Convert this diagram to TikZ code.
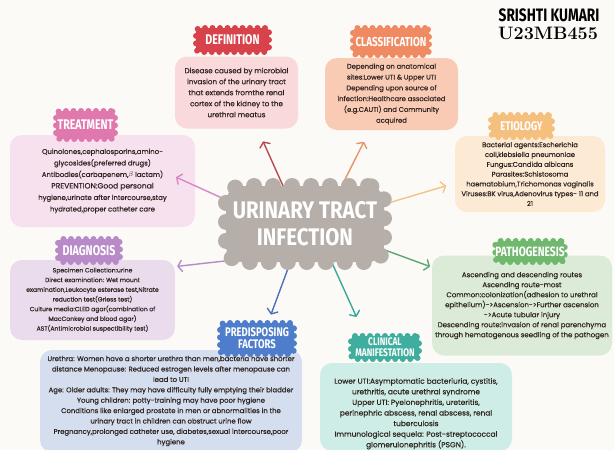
\documentclass[tikz,border=0pt]{standalone}
\usepackage{fontspec}
\usepackage{tikz}
\usetikzlibrary{arrows.meta}
\newfontfamily\bodyfont{Poppins}[FakeBold=0.3]
\newfontfamily\headfont{Fira Sans}[FakeStretch=0.76]
\newfontfamily\bigheadfont{Fira Sans}[FakeStretch=0.85]
\definecolor{bgcol}{HTML}{FCFAF6}
\definecolor{inkcol}{HTML}{2E2420}
\definecolor{uticol}{HTML}{B6AEA9}
\definecolor{defcol}{HTML}{D8434B}
\definecolor{defbg}{HTML}{F9D9DA}
\definecolor{defarr}{HTML}{B84A4F}
\definecolor{classcol}{HTML}{EF8A62}
\definecolor{classbg}{HTML}{F9CBB5}
\definecolor{classarr}{HTML}{E4956A}
\definecolor{etiocol}{HTML}{F5C07E}
\definecolor{etiobg}{HTML}{FCEAD4}
\definecolor{etioarr}{HTML}{F1C488}
\definecolor{treatcol}{HTML}{E078AE}
\definecolor{treatbg}{HTML}{F7E1EE}
\definecolor{treatarr}{HTML}{D986C4}
\definecolor{diagcol}{HTML}{B98AC8}
\definecolor{diagbg}{HTML}{EADCEC}
\definecolor{diagarr}{HTML}{B28CC8}
\definecolor{pathcol}{HTML}{6FB86E}
\definecolor{pathbg}{HTML}{DCEBD7}
\definecolor{patharr}{HTML}{5FA56E}
\definecolor{predcol}{HTML}{4E7DCB}
\definecolor{predbg}{HTML}{D4DEEE}
\definecolor{predarr}{HTML}{4B72BA}
\definecolor{clincol}{HTML}{3FAE9E}
\definecolor{clinbg}{HTML}{CFEDE7}
\definecolor{clinarr}{HTML}{3BA899}
\pgfdeclarelayer{front}
\pgfsetlayers{main,front}
\tikzset{
  infobox/.style={rounded corners=12pt, align=center, text=inkcol, inner sep=0pt},
  badge/.style={rectangle, rounded corners=4pt, fill=#1, draw=#1, line width=6pt,
    dash pattern=on 0pt off 7.5pt, line cap=round, align=center, text=white,
    inner sep=0pt, outer sep=0pt},
  link/.style={-{Straight Barb[length=4pt,width=11pt,round]}, line width=1.4pt,
    line cap=round, solid},
}
\newcommand{\bodysize}[2]{\bodyfont\fontsize{#1}{#2}\selectfont}
\newcommand{\headsize}[2]{\headfont\bfseries\fontsize{#1}{#2}\selectfont}

\begin{document}
\begin{tikzpicture}[x=1pt, y=-1pt]

  % Page.
  \useasboundingbox (0,0) rectangle (614,450);
  \fill[bgcol] (0,0) rectangle (614,450);

  % Author.
  \node[font=\headsize{18}{18}, text=black] (author) at (549,15) {SRISHTI KUMARI};
  \node[font=\rmfamily\bfseries\fontsize{18}{18}\selectfont, text=black] (regno)
    at (548,33) {U23MB455};

  % Text boxes.
  \node[infobox, fill=defbg, minimum width=123, minimum height=72,
    font=\bodysize{7.2}{11}] (defbox) at (236.5,92.5)
    {Disease caused by microbial\\invasion of the urinary tract\\that extends fromthe renal\\cortex of the kidney to the\\urethral meatus};
  \node[infobox, fill=classbg, minimum width=133, minimum height=72,
    font=\bodysize{6.8}{10.8}] (classbox) at (391.5,94)
    {Depending on anatomical\\sites:Lower UTI \& Upper UTI\\Depending upon source of\\infection:Healthcare associated\\(e.g.CAUTI) and Community\\acquired};
  \node[infobox, fill=etiobg, minimum width=150, minimum height=76,
    font=\bodysize{6.8}{9.8}] (etiobox) at (530,174)
    {Bacterial agents:Escherichia\\coli,klebsiella pneumoniae\\Fungus:Candida albicans\\Parasites:Schistosoma\\haematobium,Trichomonas vaginalis\\Viruses:BK virus,Adenovirus types- 11 and\\21};
  \node[infobox, fill=treatbg, minimum width=185, minimum height=92,
    font=\bodysize{6.9}{11.5}] (treatbox) at (102.5,181)
    {Quinolones,cephalosporins,amino-\\glycosides(preferred drugs)\\Antibodies(carbapenem,$\beta$ lactam)\\{\fontsize{7.6}{11.5}\selectfont PREVENTION:Good personal}\\hygiene,urinate after intercourse,stay\\hydrated,proper catheter care};
  \node[infobox, fill=diagbg, minimum width=165, minimum height=80,
    font=\bodysize{6.1}{9.7}] (diagbox) at (92.5,300)
    {Specimen Collection:urine\\Direct examination: Wet mount\\examination,Leukocyte esterase test,Nitrate\\reduction test(Griess test)\\Culture media:CLED agar(combination of\\MacConkey and blood agar)\\AST(Antimicrobial suspectibility test)};
  \node[infobox, fill=pathbg, minimum width=180, minimum height=100,
    font=\bodysize{7}{10}] (pathbox) at (522,305.5)
    {Ascending and descending routes\\Ascending route-most\\Common:colonization(adhesion to urethral\\epithelium)->Ascension->Further ascension\\->Acute tubular injury\\Descending route:invasion of renal parenchyma\\through hematogenous seedling of the pathogen};
  \node[infobox, fill=predbg, minimum width=262, minimum height=102,
    font=\bodysize{6.9}{10.4}] (predbox) at (171,401)
    {Urethra: Women have a shorter urethra than men,bacteria have shorter\\distance Menopause: Reduced estrogen levels after menopause can\\lead to UTI\\Age: Older adults: They may have difficulty fully emptying their bladder\\Young children: potty-training may have poor hygiene\\Conditions like enlarged prostate in men or abnormalities in the\\urinary tract in children can obstruct urine flow\\Pregnancy,prolonged catheter use, diabetes,sexual intercourse,poor\\hygiene};
  \node[infobox, fill=clinbg, minimum width=192, minimum height=88,
    font=\bodysize{7.4}{10.6}] (clinbox) at (416,407)
    {\rule{0pt}{19pt}Lower UTI:Asymptomatic bacteriuria, cystitis,\\urethritis, acute urethral syndrome\\Upper UTI: Pyelonephritis, ureteritis,\\perinephric abscess, renal abscess, renal\\tuberculosis\\Immunological sequela: Post-streptococcal\\glomerulonephritis (PSGN).};

  % Title badges.
  \node[badge=defcol, minimum width=73, minimum height=24,
    font=\headsize{14}{14}] (defbadge) at (232.5,40) {DEFINITION};
  \node[badge=classcol, minimum width=76, minimum height=27,
    font=\headsize{13}{13}] (classbadge) at (391,41.5) {CLASSIFICATION};
  \node[badge=etiocol, minimum width=61, minimum height=22,
    font=\headsize{12.5}{12.5}] (etiobadge) at (521.5,126) {ETIOLOGY};
  \node[badge=treatcol, minimum width=59, minimum height=28,
    font=\headsize{14}{14}] (treatbadge) at (85.5,125) {TREATMENT};
  \node[badge=diagcol, minimum width=62, minimum height=23,
    font=\headsize{14}{14}] (diagbadge) at (89,250.5) {DIAGNOSIS};
  \node[badge=pathcol, minimum width=68, minimum height=21,
    font=\headsize{13.5}{13.5}] (pathbadge) at (530,251.5) {PATHOGENESIS};
  \node[badge=predcol, minimum width=74, minimum height=31,
    font=\headsize{12.5}{12}] (predbadge) at (257,338.5) {PREDISPOSING\\FACTORS};
  \node[badge=clincol, minimum width=68, minimum height=23,
    font=\headsize{11}{11}] (clinbadge) at (385,347.5) {CLINICAL\\MANIFESTATION};

  % Centre, kept above the arrow tails.
  \begin{pgfonlayer}{front}
    \node[badge=uticol, rounded corners=16pt, line width=16pt,
      dash pattern=on 0pt off 19pt, minimum width=158, minimum height=76,
      font=\bigheadfont\bfseries\fontsize{24}{27}\selectfont]
      (uti) at (305,224) {URINARY TRACT\\INFECTION};
  \end{pgfonlayer}

  % Arrows.
  \draw[link, defarr]   (uti.120)  -- (defbox.-60)    [shorten >=14pt];
  \draw[link, classarr] (uti.46)   -- (classbox.-121) [shorten >=13pt];
  \draw[link, etioarr]  (uti.14)   -- (etiobox.-173)  [shorten >=9pt];
  \draw[link, treatarr] (uti.163)  -- (treatbox.-3)   [shorten >=-21pt];
  \draw[link, diagarr]  (uti.-155) -- (diagbox.22)    [shorten >=2pt];
  \draw[link, patharr]  (uti.-18)  -- (pathbox.157)   [shorten >=2pt];
  \draw[link, predarr]  (uti.-111) -- (predbadge.55)  [shorten >=9pt];
  \draw[link, clinarr]  (uti.-55)  -- (clinbadge.150) [shorten >=21pt];

\end{tikzpicture}
\end{document}
